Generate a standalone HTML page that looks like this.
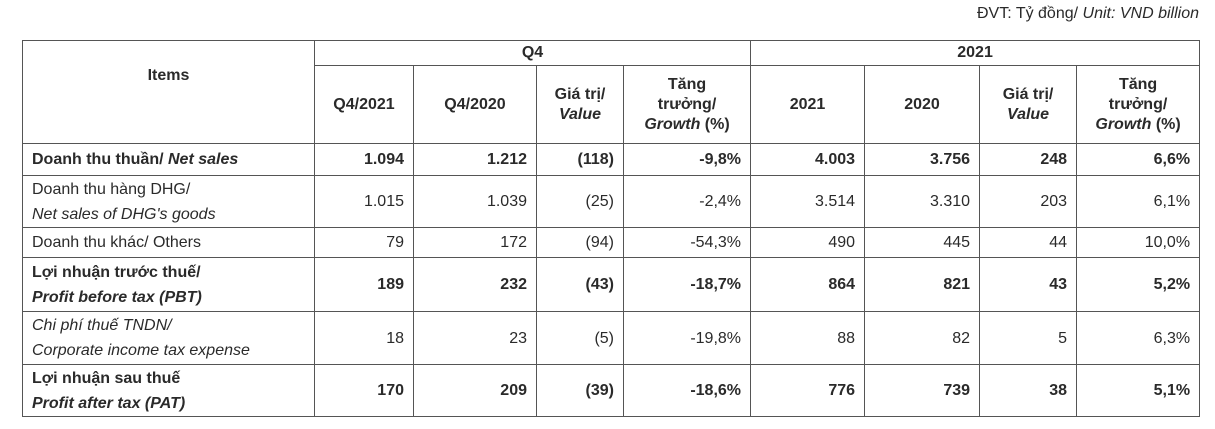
<!DOCTYPE html>
<html><head><meta charset="utf-8"><style>
body{margin:0;width:1215px;height:429px;background:#fff;position:relative;overflow:hidden;font-family:"Liberation Sans",sans-serif;color:#2a2a2a}
.unit{position:absolute;right:16px;top:5px;font-size:16px}
table{position:absolute;left:22px;top:40px;border-collapse:collapse;table-layout:fixed;width:1177px;font-size:16px}
td,th{border:1.5px solid #555;padding:0 9px;line-height:25px}
th{font-weight:bold;text-align:center;line-height:20px}
td.n{text-align:right}
.b td{font-weight:bold}
i{font-style:italic}
</style></head><body>
<div class="unit">ĐVT: Tỷ đồng/ <i>Unit: VND billion</i></div>
<table>
<colgroup><col style="width:292px"><col style="width:99px"><col style="width:123px"><col style="width:87px"><col style="width:127px"><col style="width:114px"><col style="width:115px"><col style="width:97px"><col style="width:123px"></colgroup>
<tr style="height:25px"><th rowspan="2" style="vertical-align:top;padding-top:25px">Items</th><th colspan="4">Q4</th><th colspan="4">2021</th></tr>
<tr style="height:78px"><th>Q4/2021</th><th>Q4/2020</th><th>Giá trị/<br><i>Value</i></th><th>Tăng<br>trưởng/<br><i>Growth</i> (%)</th><th>2021</th><th>2020</th><th>Giá trị/<br><i>Value</i></th><th>Tăng<br>trưởng/<br><i>Growth</i> (%)</th></tr>
<tr class="b" style="height:32px"><td>Doanh thu thuần/ <i>Net sales</i></td><td class="n">1.094</td><td class="n">1.212</td><td class="n">(118)</td><td class="n">-9,8%</td><td class="n">4.003</td><td class="n">3.756</td><td class="n">248</td><td class="n">6,6%</td></tr>
<tr style="height:52px"><td>Doanh thu hàng DHG/<br><i>Net sales of DHG's goods</i></td><td class="n">1.015</td><td class="n">1.039</td><td class="n">(25)</td><td class="n">-2,4%</td><td class="n">3.514</td><td class="n">3.310</td><td class="n">203</td><td class="n">6,1%</td></tr>
<tr style="height:30px"><td>Doanh thu khác/ Others</td><td class="n">79</td><td class="n">172</td><td class="n">(94)</td><td class="n">-54,3%</td><td class="n">490</td><td class="n">445</td><td class="n">44</td><td class="n">10,0%</td></tr>
<tr class="b" style="height:54px"><td>Lợi nhuận trước thuế/<br><i>Profit before tax (PBT)</i></td><td class="n">189</td><td class="n">232</td><td class="n">(43)</td><td class="n">-18,7%</td><td class="n">864</td><td class="n">821</td><td class="n">43</td><td class="n">5,2%</td></tr>
<tr style="height:53px"><td><i>Chi phí thuế TNDN/<br>Corporate income tax expense</i></td><td class="n">18</td><td class="n">23</td><td class="n">(5)</td><td class="n">-19,8%</td><td class="n">88</td><td class="n">82</td><td class="n">5</td><td class="n">6,3%</td></tr>
<tr class="b" style="height:52px"><td>Lợi nhuận sau thuế<br><i>Profit after tax (PAT)</i></td><td class="n">170</td><td class="n">209</td><td class="n">(39)</td><td class="n">-18,6%</td><td class="n">776</td><td class="n">739</td><td class="n">38</td><td class="n">5,1%</td></tr>
</table>
</body></html>
